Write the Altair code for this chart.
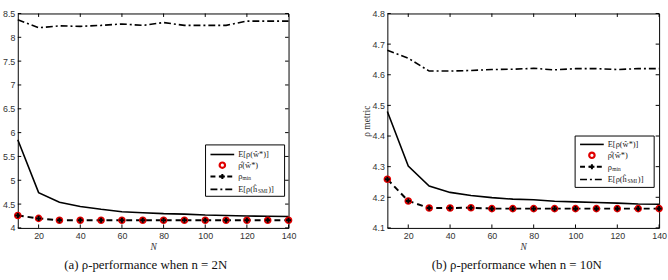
import altair as alt
import pandas as pd

# ---------------- data ----------------
N = [10, 20, 30, 40, 50, 60, 70, 80, 90, 100, 110, 120, 130, 140]
X_TICKS = [20, 40, 60, 80, 100, 120, 140]

# panel (a): n = 2N
A_E_W = [5.85, 4.74, 4.54, 4.45, 4.39, 4.34, 4.32, 4.30, 4.29, 4.27, 4.26, 4.25, 4.245, 4.24]
A_RHO_HAT = [4.26, 4.20, 4.16, 4.16, 4.16, 4.16, 4.16, 4.16, 4.16, 4.16, 4.16, 4.16, 4.16, 4.16]
A_RHO_MIN = [4.26, 4.20, 4.16, 4.16, 4.16, 4.16, 4.16, 4.16, 4.16, 4.16, 4.16, 4.16, 4.16, 4.16]
A_E_H = [8.37, 8.20, 8.24, 8.23, 8.25, 8.28, 8.25, 8.31, 8.25, 8.25, 8.25, 8.34, 8.34, 8.34]
A_YTICKS = [4, 4.5, 5, 5.5, 6, 6.5, 7, 7.5, 8, 8.5]

# panel (b): n = 10N
B_E_W = [4.48, 4.302, 4.237, 4.216, 4.206, 4.199, 4.194, 4.192, 4.187, 4.185, 4.183, 4.181, 4.178, 4.177]
B_RHO_HAT = [4.259, 4.188, 4.165, 4.165, 4.166, 4.163, 4.163, 4.163, 4.163, 4.163, 4.163, 4.163, 4.163, 4.163]
B_RHO_MIN = [4.259, 4.188, 4.165, 4.165, 4.166, 4.163, 4.163, 4.163, 4.163, 4.163, 4.163, 4.163, 4.163, 4.163]
B_E_H = [4.68, 4.654, 4.612, 4.612, 4.614, 4.617, 4.618, 4.621, 4.616, 4.620, 4.620, 4.617, 4.620, 4.620]
B_YTICKS = [4.1, 4.2, 4.3, 4.4, 4.5, 4.6, 4.7, 4.8]

CAPTION_A = "(a) ρ-performance when n = 2N"
CAPTION_B = "(b) ρ-performance when n = 10N"

SERIF = "Liberation Serif"
SANS = "Liberation Sans"
RED = "#e00000"
DASHDOT = [7, 3, 2, 3]


def one():
    return alt.Data(values=[{"k": 0}])


def panel(ew, rhat, rmin, eh, ydom, yticks, yfmt, ytitle, caption, W, H, leg_y0, leg_rows, cap_x):
    df = pd.DataFrame({"N": N, "ew": ew, "rhat": rhat, "rmin": rmin, "eh": eh})
    xs = alt.Scale(domain=[10, 140], nice=False, zero=False)
    ys = alt.Scale(domain=ydom, nice=False, zero=False)
    xaxis = alt.Axis(values=X_TICKS, title="N", titleFont=SERIF, titleFontStyle="italic",
                     titleFontWeight="normal", titleFontSize=9.5, titlePadding=1,
                     titleColor="#333",
                     labelFont=SANS, labelFontSize=9, labelColor="#333", labelPadding=4,
                     labelFlush=False, domain=False, ticks=False, tickSize=0, grid=False)
    yaxis = alt.Axis(values=yticks, format=yfmt, labelFont=SANS, labelFontSize=9,
                     labelColor="#333", labelPadding=3, domain=False, ticks=False,
                     tickSize=0, grid=False, title=ytitle if ytitle else "",
                     titleFont=SERIF, titleFontWeight="normal", titleFontSize=9.5,
                     titleColor="#333", titlePadding=1)

    def X(f="N"):
        return alt.X(f"{f}:Q", scale=xs, axis=xaxis)

    def Y(f):
        return alt.Y(f"{f}:Q", scale=ys, axis=yaxis)

    base = alt.Chart(df)
    l_ew = base.mark_line(color="black", strokeWidth=1.6).encode(x=X(), y=Y("ew"))
    l_eh = base.mark_line(color="black", strokeWidth=1.6, strokeDash=DASHDOT).encode(
        x=X(), y=Y("eh"))
    l_min = base.mark_line(color="black", strokeWidth=2, strokeDash=[6, 4]).encode(
        x=X(), y=Y("rmin"))
    p_hat = base.mark_point(shape="circle", size=30, stroke=RED, strokeWidth=2.2,
                            filled=False, opacity=1).encode(x=X(), y=Y("rhat"))
    p_min = base.mark_point(shape="cross", size=26, color="black", filled=True,
                            opacity=1).encode(x=X(), y=Y("rmin"))

    # inward ticks (MATLAB style box)
    ytd = alt.Data(values=[{"v": v} for v in yticks])
    xtd = alt.Data(values=[{"v": v} for v in X_TICKS])
    t_yl = alt.Chart(ytd).mark_rule(color="black", strokeWidth=1).encode(
        y=Y("v"), x=alt.value(0), x2=alt.value(3.5))
    t_yr = alt.Chart(ytd).mark_rule(color="black", strokeWidth=1).encode(
        y=Y("v"), x=alt.value(W - 3.5), x2=alt.value(W))
    t_xb = alt.Chart(xtd).mark_rule(color="black", strokeWidth=1).encode(
        x=X("v"), y=alt.value(H - 3.5), y2=alt.value(H))
    t_xt = alt.Chart(xtd).mark_rule(color="black", strokeWidth=1).encode(
        x=X("v"), y=alt.value(0), y2=alt.value(3.5))

    # legend box
    bx0, bx1 = 190, 270
    by0, by1 = leg_y0, leg_y0 + 52
    r1, r2, r3, r4 = leg_rows
    lx0, lx1, mx, tx = 195, 219, 207, 223

    def txt(t, xx, yy, fs=8.5):
        return alt.Chart(one()).mark_text(text=t, font=SERIF, fontSize=fs, align="left",
                                          baseline="middle", color="#222").encode(
            x=alt.value(xx), y=alt.value(yy))

    leg = [
        alt.Chart(one()).mark_rect(fill="white", stroke="black", strokeWidth=1).encode(
            x=alt.value(bx0), x2=alt.value(bx1), y=alt.value(by0), y2=alt.value(by1)),
        alt.Chart(one()).mark_rule(color="black", strokeWidth=1.6).encode(
            x=alt.value(lx0), x2=alt.value(lx1), y=alt.value(r1)),
        txt("E[ρ(ŵ*)]", tx, r1),
        alt.Chart(one()).mark_point(shape="circle", size=30, stroke=RED, strokeWidth=2.2,
                                    filled=False, opacity=1).encode(
            x=alt.value(mx), y=alt.value(r2)),
        txt("ρ̂(ŵ*)", tx, r2),
        alt.Chart(one()).mark_rule(color="black", strokeWidth=2, strokeDash=[5, 3.5]).encode(
            x=alt.value(lx0), x2=alt.value(lx1), y=alt.value(r3)),
        alt.Chart(one()).mark_point(shape="cross", size=26, color="black", filled=True,
                                    opacity=1).encode(
            x=alt.value(mx), y=alt.value(r3)),
        txt("ρ", tx, r3),
        txt("min", tx + 4.5, r3 + 2, 5.5),
        alt.Chart(one()).mark_rule(color="black", strokeWidth=1.6,
                                   strokeDash=DASHDOT).encode(
            x=alt.value(lx0), x2=alt.value(lx1), y=alt.value(r4)),
        txt("E[ρ(ĥ", tx, r4),
        txt("SMI", tx + 20, r4 + 2, 5.5),
        txt(")]", tx + 30.5, r4),
    ]

    cap = alt.Chart(one()).mark_text(text=caption, font=SERIF, fontSize=13, align="center",
                                     baseline="middle", color="#111").encode(
        x=alt.value(cap_x), y=alt.value(H + 38))

    return alt.layer(l_ew, l_eh, l_min, p_hat, p_min, t_yl, t_yr, t_xb, t_xt, *leg, cap).properties(
        width=W, height=H)


left = panel(A_E_W, A_RHO_HAT, A_RHO_MIN, A_E_H, [4, 8.5], A_YTICKS, ".1~f", None,
             CAPTION_A, 274, 217, 133, (142.7, 153.5, 165, 178), 129.5)
right = panel(B_E_W, B_RHO_HAT, B_RHO_MIN, B_E_H, [4.1, 4.8], B_YTICKS, ".1f", "ρ metric",
              CAPTION_B, 275, 217, 124, (132.5, 143.5, 155, 168), 131)

chart = alt.hconcat(left, right, spacing=63).properties(
    padding={"left": 1, "top": 7, "right": 0, "bottom": 0}
).configure(background="white", view=alt.ViewConfig(stroke="black", strokeWidth=1))

chart.save("out.html", embed_options={"renderer": "svg", "actions": False})
